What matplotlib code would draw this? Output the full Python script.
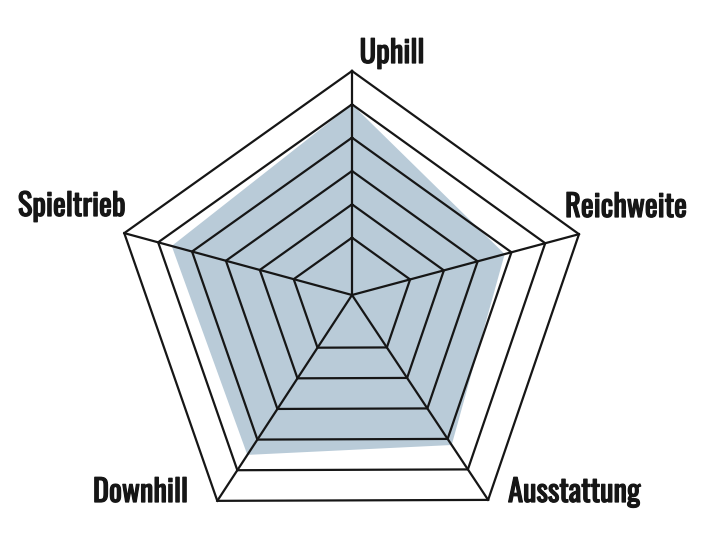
import numpy as np
import matplotlib.pyplot as plt
import matplotlib.patheffects as pe

# --- DATA ----------------------------------------------------------------
categories = ["Uphill", "Reichweite", "Ausstattung", "Downhill", "Spieltrieb"]
scores = [5.0, 3.8, 4.2, 4.5, 4.6]
ring_levels = [1, 2, 3, 4, 5, 6]

# --- GEOMETRY (the printed pentagon is not quite regular) ---------------
CX, CY = 352, 295
angles_deg = [90.0, 15.0, -56.4, -123.2, 164.8]
spoke_len = [224, 235, 246, 246, 236]
OFFSET = 0.72          # radial offset so the inner ring sits away from the centre
VMAX = ring_levels[-1]

FILL = "#b9cbd8"
INK = "#161616"


def to_xy(vals):
    vals = np.asarray(vals, dtype=float)
    th = np.deg2rad(angles_deg)
    r = np.asarray(spoke_len) * (vals + OFFSET) / (VMAX + OFFSET)
    x = CX + r * np.cos(th)
    y = CY - r * np.sin(th)
    return np.append(x, x[0]), np.append(y, y[0])


fig = plt.figure(figsize=(7.12, 5.55), dpi=100)
ax = fig.add_axes([0, 0, 1, 1])
ax.set_xlim(0, 712)
ax.set_ylim(555, 0)
ax.axis("off")

# shaded score area
sx, sy = to_xy(scores)
ax.fill(sx, sy, color=FILL, lw=0, zorder=1)

# rings
for lev in ring_levels:
    rx, ry = to_xy([lev] * len(categories))
    ax.plot(rx, ry, color=INK, lw=1.6, solid_joinstyle="miter", zorder=2)

# spokes
ox, oy = to_xy([VMAX] * len(categories))
for x, y in zip(ox[:-1], oy[:-1]):
    ax.plot([CX, x], [CY, y], color=INK, lw=1.6, zorder=2)

# labels (Oswald only ships a regular cut here, so thicken it a little)
font = dict(family=["Oswald", "DejaVu Sans"], size=22, color=INK, va="baseline",
            path_effects=[pe.withStroke(linewidth=0.9, foreground=INK)])
ax.text(392, 63, categories[0], ha="center", **font)
ax.text(565, 217, categories[1], ha="left", **font)
ax.text(508, 502, categories[2], ha="left", **font)
ax.text(188, 502, categories[3], ha="right", **font)
ax.text(126, 216, categories[4], ha="right", **font)

fig.savefig("out.png", dpi=100)
